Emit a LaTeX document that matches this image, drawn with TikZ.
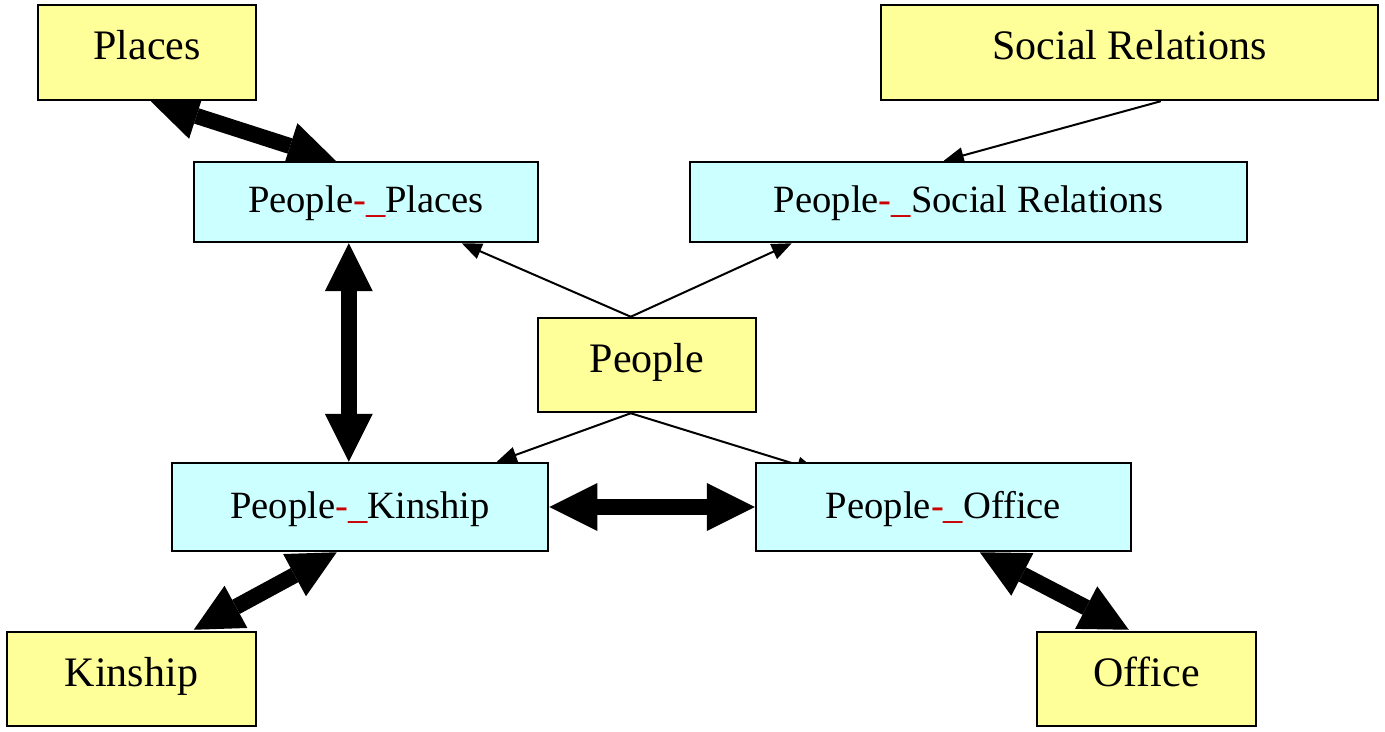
\documentclass[tikz,border=0pt]{standalone}
\usepackage{fontspec}
\setmainfont{Liberation Serif}
\usetikzlibrary{arrows.meta,calc}
\pgfdeclarelayer{background}
\pgfsetlayers{background,main}
\definecolor{ybox}{HTML}{FFFF99}
\definecolor{cbox}{HTML}{CCFFFF}
\definecolor{redmark}{HTML}{CC0000}
\tikzset{
  base/.style={draw=black, line width=1.25pt, inner sep=0pt, align=center},
  ynode/.style={base, fill=ybox, font=\fontsize{21}{25}\selectfont, text height=14pt, text depth=6.8pt},
  cnode/.style={base, fill=cbox, font=\fontsize{19.3}{23}\selectfont, text height=13pt, text depth=2pt},
  thin/.style={line width=1pt, -{Triangle[length=10pt,width=8pt]}},
  thick/.style={line width=8pt, {Triangle[length=24pt,width=24pt,line width=0pt]}-{Triangle[length=24pt,width=24pt,line width=0pt]}}
}
\newcommand{\sepmark}{{\color{redmark}-\_}}
\begin{document}
\begin{tikzpicture}[x=0.5pt,y=-0.5pt]
\useasboundingbox (0,0) rectangle (1385,732);
\node[ynode, minimum width=109pt, minimum height=47.5pt] (places) at (147,52.5) {Places};
\node[ynode, minimum width=248.5pt, minimum height=47.5pt] (social) at (1129.5,52.5) {Social Relations};
\node[cnode, minimum width=172pt, minimum height=40pt] (pplaces) at (366,202) {People\sepmark Places};
\node[cnode, minimum width=278.5pt, minimum height=40pt] (psocial) at (968.5,202) {People\sepmark Social Relations};
\node[ynode, minimum width=109pt, minimum height=47pt] (people) at (647,365) {People};
\node[cnode, minimum width=188pt, minimum height=44pt] (pkin) at (360,507) {People\sepmark Kinship};
\node[cnode, minimum width=187.5pt, minimum height=44pt] (poffice) at (943.5,507) {People\sepmark Office};
\node[ynode, minimum width=124.5pt, minimum height=47pt] (kinship) at (131.5,679) {Kinship};
\node[ynode, minimum width=109.5pt, minimum height=47pt] (office) at (1146.5,679) {Office};
\begin{pgfonlayer}{background}
\draw[thick] ($(places.south west)+(114,0)$) -- ($(pplaces.north west)+(143,0)$);
\draw[thin] ($(social.south west)+(281,0)$) -- ($(psocial.north west)+(255,0)$);
\draw[thin] ($(people.north west)+(94,0)$) -- ($(pplaces.south west)+(269,0)$);
\draw[thin] ($(people.north west)+(94,0)$) -- ($(psocial.south west)+(103,0)$);
\draw[thin] ($(people.south west)+(94,0)$) -- ($(pkin.north west)+(326,0)$);
\draw[thin] ($(people.south west)+(94,0)$) -- ($(poffice.north west)+(62,9)$);
\draw[thick] ($(pplaces.south west)+(156,0)$) -- ($(pkin.north west)+(178,0)$);
\draw[thick] (pkin.east) -- (poffice.west);
\draw[thick] ($(pkin.south west)+(166,0)$) -- ($(kinship.north west)+(188,-1)$);
\draw[thick] ($(poffice.south west)+(225,0)$) -- ($(office.north west)+(93,-1)$);
\end{pgfonlayer}
\end{tikzpicture}
\end{document}
